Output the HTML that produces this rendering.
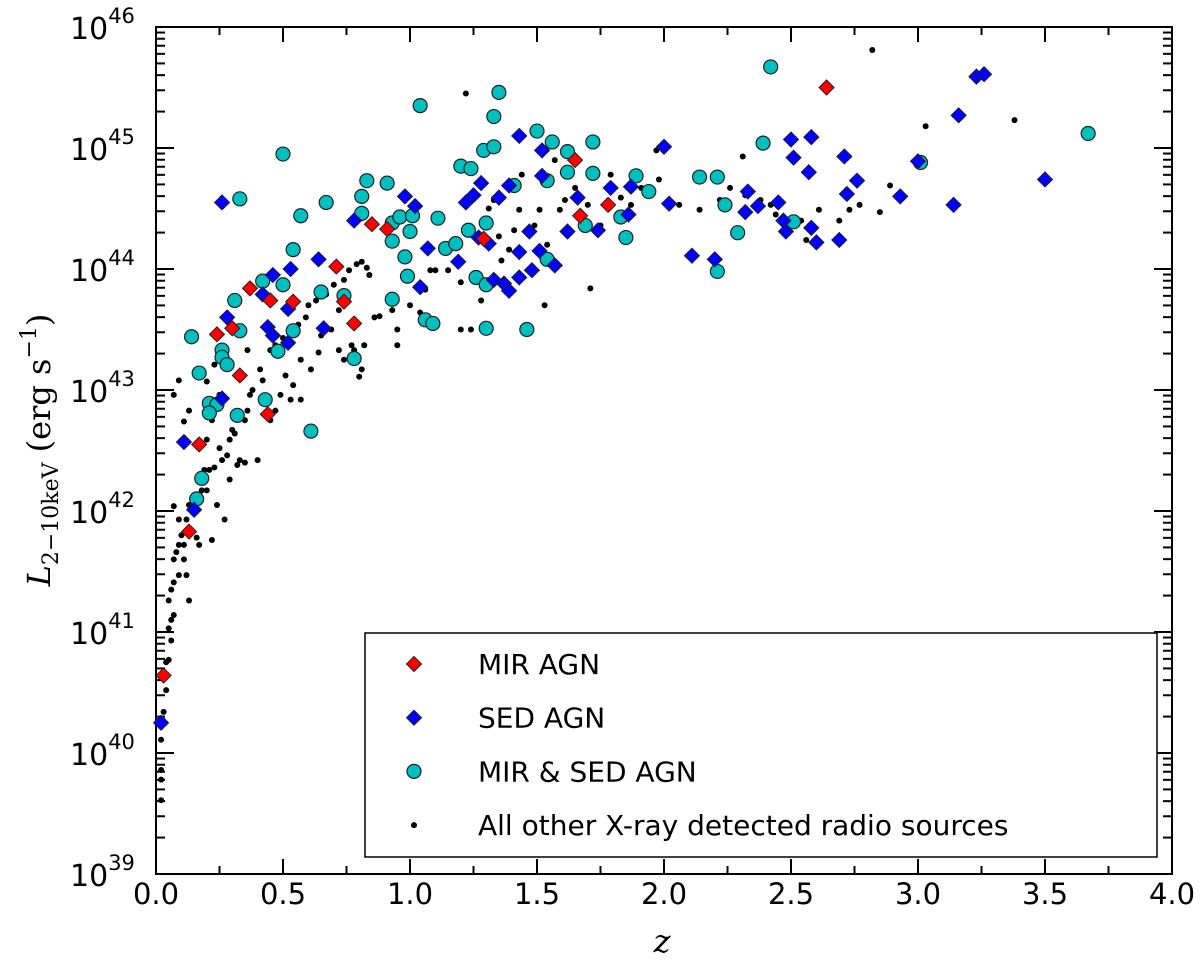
<!DOCTYPE html>
<html><head><meta charset="utf-8"><style>
html,body{margin:0;padding:0;background:#fff;}
svg{display:block;font-family:"DejaVu Sans","Liberation Sans",sans-serif;}
</style></head><body>
<svg id="chart" width="1200" height="967" viewBox="0 0 1200 967"></svg>
<script>
const xTicks=[0,0.5,1.0,1.5,2.0,2.5,3.0,3.5,4.0];
const xTickLabels=["0.0","0.5","1.0","1.5","2.0","2.5","3.0","3.5","4.0"];
const yTicks=[39,40,41,42,43,44,45,46];
const mirAgn=[[.03,40.64],[.13,41.83],[.17,42.55],[.24,43.46],[.30,43.51],[.33,43.12],[.37,43.84],[.44,42.80],[.45,43.74],[.54,43.73],[.71,44.02],[.74,43.73],[.78,43.55],[.85,44.37],[.91,44.33],[1.29,44.25],[1.65,44.90],[1.67,44.44],[1.78,44.53],[2.64,45.50]];
const sedAgn=[[.02,40.25],[.11,42.57],[.15,42.01],[.26,42.93],[.28,43.60],[.26,44.55],[.42,43.79],[.44,43.52],[.46,43.45],[.46,43.95],[.52,43.67],[.52,43.39],[.53,44.00],[.64,44.08],[.66,43.51],[.78,44.40],[.98,44.60],[1.02,44.52],[1.07,44.17],[1.04,43.85],[1.19,44.06],[1.22,44.55],[1.25,44.61],[1.28,44.71],[1.27,44.26],[1.31,44.21],[1.33,43.91],[1.35,44.59],[1.39,44.69],[1.43,45.10],[1.43,44.14],[1.43,43.93],[1.37,43.88],[1.39,43.82],[1.47,44.31],[1.48,43.99],[1.51,44.15],[1.52,44.77],[1.52,44.98],[1.57,44.03],[1.62,44.31],[1.66,44.59],[1.74,44.32],[1.79,44.67],[1.86,44.45],[1.87,44.68],[2.00,45.01],[2.02,44.54],[2.11,44.11],[2.20,44.08],[2.32,44.47],[2.33,44.64],[2.37,44.52],[2.45,44.55],[2.47,44.40],[2.48,44.31],[2.50,45.07],[2.51,44.92],[2.57,44.80],[2.58,45.09],[2.58,44.34],[2.60,44.22],[2.69,44.24],[2.71,44.93],[2.72,44.62],[2.76,44.73],[2.93,44.60],[3.00,44.89],[3.16,45.27],[3.23,45.59],[3.26,45.61],[3.14,44.53],[3.50,44.74]];
const bothAgn=[[.14,43.44],[.16,42.10],[.18,42.27],[.17,43.14],[.21,42.89],[.24,42.88],[.21,42.81],[.26,43.33],[.26,43.27],[.28,43.21],[.32,42.79],[.31,43.74],[.33,43.49],[.33,44.58],[.42,43.90],[.43,42.92],[.48,43.32],[.50,44.95],[.50,43.87],[.54,44.16],[.54,43.49],[.57,44.44],[.61,42.66],[.65,43.81],[.67,44.55],[.74,43.78],[.78,43.26],[.81,44.60],[.83,44.73],[.81,44.46],[.91,44.71],[.93,44.38],[.96,44.43],[.93,44.23],[.93,43.75],[.98,44.10],[.99,43.94],[1.01,44.44],[1.00,44.31],[1.04,45.35],[1.06,43.58],[1.09,43.55],[1.11,44.42],[1.14,44.17],[1.18,44.21],[1.23,44.32],[1.20,44.85],[1.24,44.83],[1.29,44.98],[1.30,44.38],[1.33,45.01],[1.33,45.26],[1.35,45.46],[1.26,43.93],[1.30,43.87],[1.30,43.51],[1.41,44.69],[1.46,43.50],[1.50,45.14],[1.56,45.05],[1.54,44.73],[1.54,44.08],[1.62,44.80],[1.62,44.97],[1.69,44.36],[1.72,44.79],[1.72,45.05],[1.83,44.43],[1.85,44.26],[1.89,44.77],[1.94,44.64],[2.21,44.76],[2.21,43.98],[2.24,44.53],[2.29,44.30],[2.39,45.04],[2.51,44.39],[2.42,45.67],[3.01,44.88],[3.67,45.12],[2.14,44.76]];
const otherSources=[[.02,39.78],[.02,39.86],[.02,40.11],[.03,40.34],[.04,40.52],[.04,40.75],[.05,40.77],[.06,40.93],[.05,41.03],[.06,41.10],[.07,41.14],[.05,41.26],[.06,41.35],[.07,41.41],[.09,41.47],[.07,41.60],[.08,41.66],[.09,41.72],[.11,41.72],[.10,41.80],[.09,41.93],[.12,41.93],[.13,42.05],[.15,42.09],[.17,42.11],[.17,42.26],[.18,42.17],[.20,42.17],[.21,42.34],[.23,42.36],[.26,42.42],[.28,42.46],[.29,42.59],[.31,42.64],[.20,42.59],[.11,42.74],[.13,42.83],[.07,42.96],[.09,43.08],[.16,43.13],[.20,43.07],[.23,43.21],[.25,42.96],[.30,42.67],[.29,42.26],[.32,42.38],[.33,42.42],[.35,42.75],[.36,42.83],[.38,43.00],[.41,43.17],[.42,43.08],[.45,43.33],[.47,43.37],[.50,43.43],[.53,43.50],[.56,43.54],[.59,43.60],[.60,43.70],[.63,43.74],[.67,43.79],[.70,43.87],[.74,43.91],[.76,43.99],[.79,44.04],[.81,44.06],[.83,44.01],[.84,43.95],[.82,43.37],[.81,43.17],[.80,43.11],[.78,43.33],[.86,43.60],[.88,43.61],[.93,43.66],[.95,43.50],[.95,43.37],[1.00,43.70],[1.04,43.64],[1.06,43.83],[1.08,43.99],[1.10,43.99],[1.14,44.20],[1.15,43.99],[1.20,43.89],[1.20,43.50],[1.24,43.50],[1.28,43.74],[1.30,44.40],[1.31,44.50],[1.33,44.57],[1.35,44.27],[1.36,44.07],[1.39,44.16],[1.41,44.32],[1.43,44.49],[1.44,44.78],[1.49,44.36],[1.51,44.49],[1.53,43.70],[1.54,44.20],[1.57,44.90],[1.59,44.49],[1.61,44.57],[1.65,44.67],[1.70,44.53],[1.71,43.84],[1.75,44.36],[1.79,44.78],[1.83,44.59],[1.87,44.53],[1.91,44.67],[1.95,44.61],[1.97,44.98],[1.98,44.74],[2.06,44.53],[2.14,44.49],[2.22,44.57],[2.26,44.67],[2.31,44.93],[2.32,44.61],[2.38,44.57],[2.42,44.53],[2.44,44.45],[2.54,44.40],[2.56,44.24],[2.61,44.49],[2.69,44.40],[2.73,44.49],[2.77,44.53],[2.82,45.81],[2.85,44.47],[2.89,44.69],[3.03,45.18],[3.38,45.23],[1.22,45.45],[.65,43.45],[.69,43.50],[.72,43.33],[.74,43.25],[.77,43.37],[.51,43.12],[.53,42.92],[.57,43.25],[.61,43.17],[.64,43.31],[.40,42.42],[.35,42.40],[.45,42.75],[.47,42.83],[.49,42.96],[.54,43.04],[.57,42.92],[.72,43.66],[.36,43.33],[.37,42.96],[.24,42.05],[.27,41.93],[.22,41.76],[.17,41.72],[.16,41.78],[.11,41.60],[.13,41.26],[.12,41.47],[.07,42.04],[.02,39.61],[.19,42.34],[.22,42.75],[.25,42.52]];

const NS="http://www.w3.org/2000/svg";
const svg=document.getElementById('chart');
const X0=156,X1=1172,Y0=874,Y1=27;
const sx=z=>X0+(z-0)/(4-0)*(X1-X0);
const sy=l=>Y0-(l-39)/(46-39)*(Y0-Y1);
function mk(tag,attrs,parent){const e=document.createElementNS(NS,tag);for(const k in attrs)e.setAttribute(k,attrs[k]);(parent||svg).appendChild(e);return e;}

// axes frame
const frame=mk('rect',{x:X0,y:Y1,width:X1-X0,height:Y0-Y1,fill:'none',stroke:'#000','stroke-width':2});



// ticks
const tg=mk('g',{stroke:'#000','stroke-width':2});


for(let i=0;i<xTicks.length;i++){
  const x=sx(xTicks[i]);
  mk('line',{x1:x,x2:x,y1:Y0,y2:Y0-15},tg);mk('line',{x1:x,x2:x,y1:Y1,y2:Y1+15},tg);
  if(i<xTicks.length-1){const xm=sx((xTicks[i]+xTicks[i+1])/2);mk('line',{x1:xm,x2:xm,y1:Y0,y2:Y0-8},tg);mk('line',{x1:xm,x2:xm,y1:Y1,y2:Y1+8},tg);}
  const t=mk('text',{x:x,y:904,'text-anchor':'middle','font-size':29,fill:'#000'});
  t.textContent=xTickLabels[i];
  
  
}
for(let i=0;i<yTicks.length;i++){
  const y=sy(yTicks[i]);
  mk('line',{x1:X0,x2:X0+18,y1:y,y2:y},tg);mk('line',{x1:X1,x2:X1-18,y1:y,y2:y},tg);
  if(i<yTicks.length-1){for(let m=2;m<10;m++){const ym=sy(yTicks[i]+Math.log10(m));mk('line',{x1:X0,x2:X0+9,y1:ym,y2:ym},tg);mk('line',{x1:X1,x2:X1-9,y1:ym,y2:ym},tg);}}
  const t=mk('text',{x:70,y:y+12,'font-size':30,fill:'#000'});
  t.innerHTML='10<tspan dy="-16" font-size="21">'+yTicks[i]+'</tspan>';
  
  
}

function diamond(g,cx,cy,color){
  const r=7.5;
  const p=mk('polygon',{points:`${cx},${cy-r} ${cx+r},${cy} ${cx},${cy+r} ${cx-r},${cy}`,fill:color,stroke:'#222','stroke-width':1},g);
  return p;
}
function circ(g,cx,cy){return mk('circle',{cx:cx,cy:cy,r:7,fill:'#00bfbf',stroke:'#222','stroke-width':1.2},g);}

const gOther=mk('g',{});


otherSources.forEach(d=>{const c=mk('circle',{cx:sx(d[0]),cy:sy(d[1]),r:3,fill:'#000'},gOther);
  
  });
const gBoth=mk('g',{});


bothAgn.forEach(d=>{const c=circ(gBoth,sx(d[0]),sy(d[1]));
  
  });
const gSed=mk('g',{});


sedAgn.forEach(d=>{const c=diamond(gSed,sx(d[0]),sy(d[1]),'#0000ff');
  
  });
const gMir=mk('g',{});


mirAgn.forEach(d=>{const c=diamond(gMir,sx(d[0]),sy(d[1]),'#ff0000');
  
  });

// legend
const lg=mk('g',{});


mk('rect',{x:365,y:633,width:792,height:224,fill:'#fff',stroke:'#000','stroke-width':1.5},lg);
const labels=["MIR AGN","SED AGN","MIR & SED AGN","All other X-ray detected radio sources"];
labels.forEach((s,i)=>{
  const y=664+i*53.7;
  let m;
  if(i===0)m=diamond(lg,414,y,'#ff0000');else if(i===1)m=diamond(lg,414,y,'#0000ff');else if(i===2)m=circ(lg,414,y);else m=mk('circle',{cx:414,cy:y,r:3,fill:'#000'},lg);
  const t=mk('text',{x:478,y:y+10,'font-size':28,fill:'#000'},lg);
  t.textContent=s;
  
  
});

// axis titles
const xt=mk('text',{x:662,y:952,'text-anchor':'middle','font-size':32,'font-style':'italic','font-family':'"DejaVu Serif","Liberation Serif",serif'});
xt.textContent='z';


const yt=mk('text',{transform:'translate(50,450) rotate(-90)','text-anchor':'middle','font-size':32,'font-family':'"DejaVu Serif","Liberation Serif",serif'});
yt.innerHTML='<tspan font-style="italic">L</tspan><tspan dy="8" font-size="22">2−10keV</tspan><tspan dy="-8"> (erg s</tspan><tspan dy="-14" font-size="22">−1</tspan><tspan dy="14">)</tspan>';


</script>
</body></html>
